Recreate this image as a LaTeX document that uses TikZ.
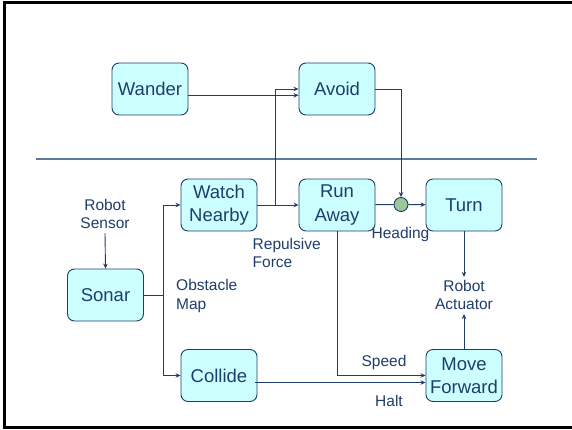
\documentclass[tikz,border=0pt]{standalone}
\usepackage{fontspec}
\setmainfont{Liberation Sans}
\usetikzlibrary{arrows.meta}
\definecolor{boxfill}{HTML}{CCFFFF}
\definecolor{navy}{HTML}{1F3D6B}
\definecolor{sepline}{HTML}{5B7B99}
\definecolor{dotgreen}{HTML}{9CC898}
\tikzset{
    behave/.style={draw=navy, fill=boxfill, rounded corners=7pt, line width=0.9pt,
        minimum width=76pt, minimum height=52pt, align=center, text=navy,
        font=\fontsize{18.5}{23.3}\selectfont, inner sep=1pt},
    lbl/.style={text=navy, font=\fontsize{15.5}{18.5}\selectfont, inner sep=0pt},
    wire/.style={draw=navy, line width=0.9pt},
}
\begin{document}
\begin{tikzpicture}[x=1pt, y=-1pt, >={Stealth[length=5pt,width=4.5pt]}]
    \useasboundingbox (0,0) rectangle (572,430);
    % frame
    \draw[line width=3pt] (574,2.5) -- (4.5,2.5) -- (4.5,427.5) -- (574,427.5);

    % upper layer
    \node[behave] (wander) at (150,89) {Wander};
    \node[behave] (avoid) at (337,89) {Avoid};

    % layer boundary
    \draw[sepline, line width=1.3pt] (36,159) -- (537,159);

    % lower layer
    \node[behave] (watch) at (219,205) {Watch\\Nearby};
    \node[behave] (run) at (337,205) {Run\\Away};
    \node[behave] (turn) at (464,205) {Turn};
    \node[behave] (sonar) at (105.5,295) {Sonar};
    \node[behave] (collide) at (219,375.5) {Collide};
    \node[behave] (move) at (464,375.5) {Move\\Forward};
    \node[circle, draw=navy, fill=dotgreen, line width=0.9pt, minimum size=14pt, inner sep=0pt] (dot) at (401,204.5) {};

    % labels
    \node[lbl, align=center] (sensor) at (105,214) {Robot\\Sensor};
    \node[lbl, align=left, anchor=west] (obstacle) at (176,296) {Obstacle\\Map};
    \node[lbl, align=left, anchor=west] (force) at (252.5,253) {Repulsive\\Force};
    \node[lbl] (heading) at (400.5,234) {Heading};
    \node[lbl, align=center] (actuator) at (464,295) {Robot\\Actuator};
    \node[lbl] (speed) at (384,362.5) {Speed};
    \node[lbl] (halt) at (389,400.5) {Halt};

    \coordinate (fork) at (163,295);
    \coordinate (split) at (275,205);

    % connectors
    \draw[wire, ->] ([yshift=-6.3pt]wander.east) -- ([yshift=-6.3pt]avoid.west);
    \draw[wire, ->] (split) |- (avoid.west);
    \draw[wire, ->] (avoid.east) -| (dot.north);
    \draw[wire, ->] (watch) -- (run);
    \draw[wire] (run) -- (dot);
    \draw[wire, ->] (dot) -- (turn);
    \draw[wire, ->] (sensor.south) ++(0,4) -- (sonar.north);
    \draw[wire] (sonar.east) -- (fork);
    \draw[wire, ->] (fork) |- (watch.west);
    \draw[wire, ->] (fork) |- (collide.west);
    \draw[wire, ->] (turn.south) -- ([yshift=3pt]actuator.north);
    \draw[wire, ->] (move.north) -- ([yshift=-4pt]actuator.south);
    \draw[wire, ->] (run.south) |- (move.west);
    \draw[wire, ->] ([yshift=-7pt,xshift=-2pt]collide.east) -- ([yshift=-7pt]move.west);
\end{tikzpicture}
\end{document}
